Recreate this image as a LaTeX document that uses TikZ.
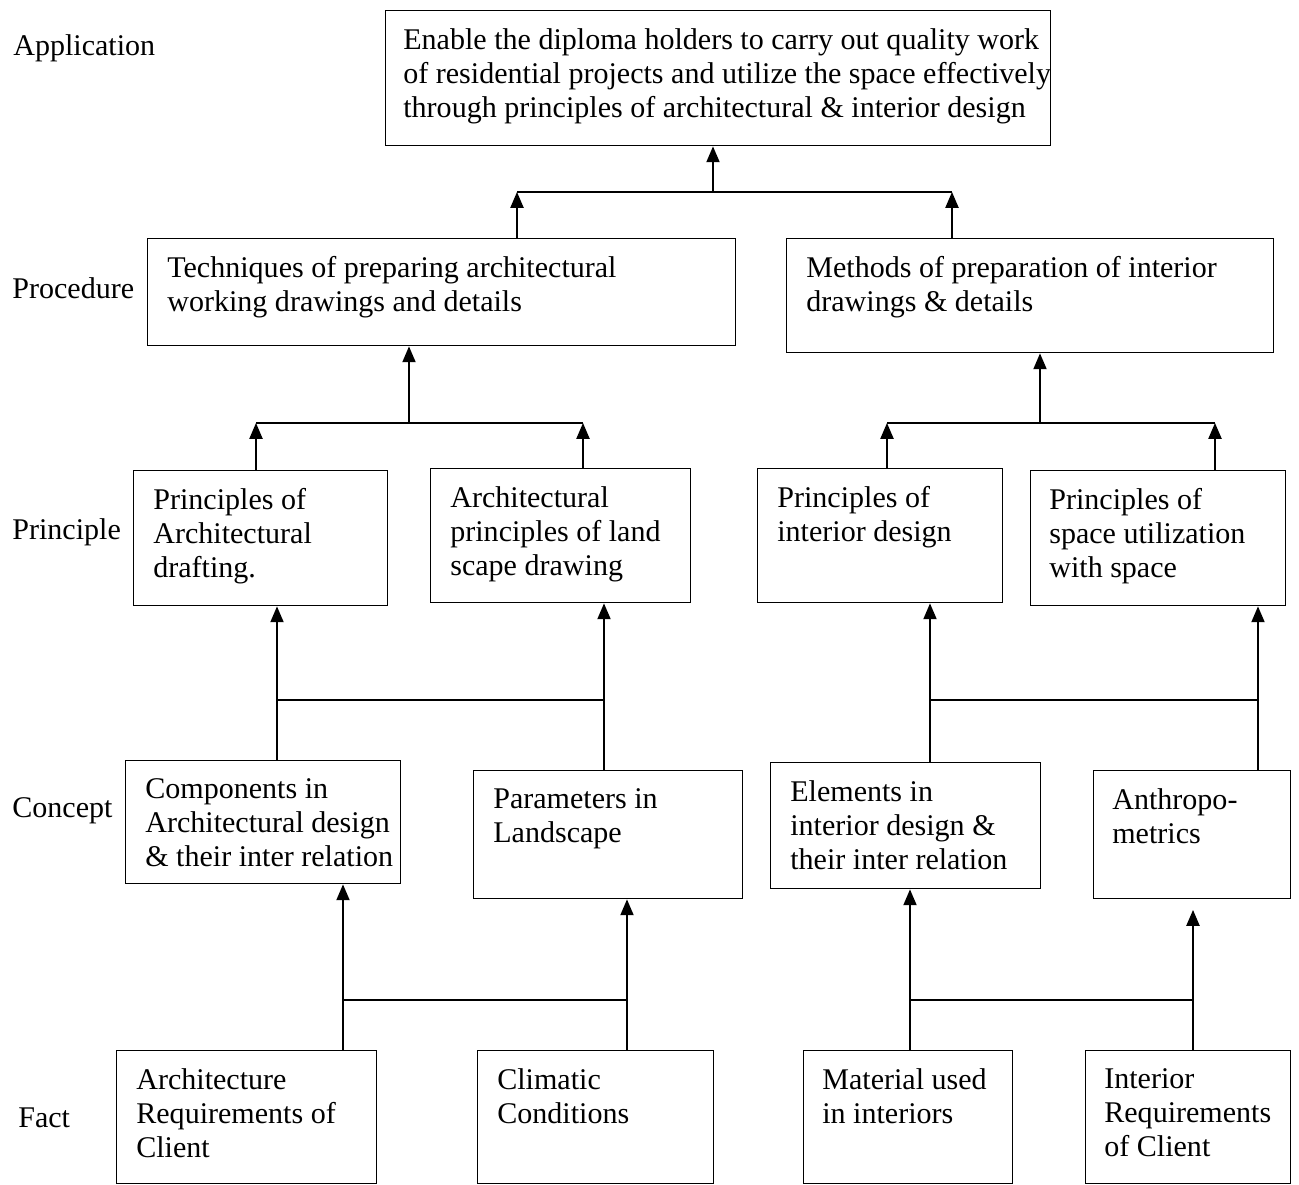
\documentclass[tikz,border=0pt]{standalone}
\usepackage{fontspec}
\setmainfont{Liberation Serif}
\usetikzlibrary{arrows.meta}

\begin{document}
\begin{tikzpicture}[x=0.02cm, y=-0.02cm,
  box/.style 2 args={draw, line width=0.8pt, anchor=north west, inner sep=0pt,
    minimum width=#1*0.02cm, minimum height=#2*0.02cm},
  txt/.style={anchor=north west, align=left, inner sep=0pt,
    font=\fontsize{17.1}{19.3}\selectfont},
  lvl/.style={anchor=base west, inner sep=0pt,
    font=\fontsize{17.1}{19.3}\selectfont},
  ln/.style={line width=0.8pt},
  arr/.style={line width=0.8pt, -{Triangle[width=7.5pt,length=9pt]}}]
\useasboundingbox (0,0) rectangle (1299,1184);

\node[lvl] (l-app) at (13,55) {Application};
\node[lvl] (l-proc) at (12,298) {Procedure};
\node[lvl] (l-prin) at (12,539) {Principle};
\node[lvl] (l-conc) at (12,817) {Concept};
\node[lvl] (l-fact) at (18,1127) {Fact};

\node[box={665}{135}] (app) at (385,10) {};
\node[txt] (app-t) at ([shift={(18,18)}]app.north west)
  {Enable the diploma holders to carry out quality work\\
   of residential projects and utilize the space effectively\\
   through principles of architectural \& interior design};

\node[box={588}{107}] (procL) at (147,238) {};
\node[txt] (procL-t) at ([shift={(20,18)}]procL.north west)
  {Techniques of preparing architectural\\ working drawings and details};
\node[box={487}{114}] (procR) at (786,238) {};
\node[txt] (procR-t) at ([shift={(20,18)}]procR.north west)
  {Methods of preparation of interior\\ drawings \& details};

\node[box={254}{135}] (prin1) at (133,470) {};
\node[txt] (prin1-t) at ([shift={(20,18)}]prin1.north west)
  {Principles of\\ Architectural\\ drafting.};
\node[box={260}{134}] (prin2) at (430,468) {};
\node[txt] (prin2-t) at ([shift={(20,18)}]prin2.north west)
  {Architectural\\ principles of land\\ scape drawing};
\node[box={245}{134}] (prin3) at (757,468) {};
\node[txt] (prin3-t) at ([shift={(20,18)}]prin3.north west)
  {Principles of\\ interior design};
\node[box={255}{135}] (prin4) at (1030,470) {};
\node[txt] (prin4-t) at ([shift={(19,18)}]prin4.north west)
  {Principles of\\ space utilization\\ with space};

\node[box={275}{123}] (conc1) at (125,760) {};
\node[txt] (conc1-t) at ([shift={(20,18)}]conc1.north west)
  {Components in\\ Architectural design\\ \& their inter relation};
\node[box={269}{128}] (conc2) at (473,770) {};
\node[txt] (conc2-t) at ([shift={(20,18)}]conc2.north west)
  {Parameters in\\ Landscape};
\node[box={270}{126}] (conc3) at (770,762) {};
\node[txt] (conc3-t) at ([shift={(20,18)}]conc3.north west)
  {Elements in\\ interior design \&\\ their inter relation};
\node[box={197}{128}] (conc4) at (1093,770) {};
\node[txt] (conc4-t) at ([shift={(19,18)}]conc4.north west)
  {Anthropo-\\ metrics};

\node[box={260}{133}] (fact1) at (116,1050) {};
\node[txt] (fact1-t) at ([shift={(20,18)}]fact1.north west)
  {Architecture\\ Requirements of\\ Client};
\node[box={236}{133}] (fact2) at (477,1050) {};
\node[txt] (fact2-t) at ([shift={(20,18)}]fact2.north west)
  {Climatic\\ Conditions};
\node[box={209}{133}] (fact3) at (803,1050) {};
\node[txt] (fact3-t) at ([shift={(19,18)}]fact3.north west)
  {Material used\\ in interiors};
\node[box={205}{133}] (fact4) at (1085,1050) {};
\node[txt] (fact4-t) at ([shift={(19,18)}]fact4.north west)
  {Interior\\ Requirements\\ of Client};

\coordinate (jA1) at (517,192); \coordinate (jA2) at (952,192);
\coordinate (jA) at (713,192);
\draw[ln] (jA1) -- (jA2);
\draw[arr] (procL.north -| jA1) -- (jA1);
\draw[arr] (procR.north -| jA2) -- (jA2);
\draw[arr] (jA) -- (jA |- app.south);

\coordinate (jB1) at (256,423); \coordinate (jB2) at (583,423);
\coordinate (jB) at (409,423);
\draw[ln] (jB1) -- (jB2);
\draw[arr] (prin1.north -| jB1) -- (jB1);
\draw[arr] (prin2.north -| jB2) -- (jB2);
\draw[arr] (jB) -- (jB |- procL.south);

\coordinate (jC1) at (887,423); \coordinate (jC2) at (1215,423);
\coordinate (jC) at (1040,423);
\draw[ln] (jC1) -- (jC2);
\draw[arr] (prin3.north -| jC1) -- (jC1);
\draw[arr] (prin4.north -| jC2) -- (jC2);
\draw[arr] (jC) -- (jC |- procR.south);

\coordinate (jD1) at (277,700); \coordinate (jD2) at (604,700);
\draw[ln] (jD1) -- (jD2);
\draw[arr] (conc1.north -| jD1) -- (jD1 |- prin1.south);
\draw[arr] (conc2.north -| jD2) -- (jD2 |- prin2.south);

\coordinate (jE1) at (930,700); \coordinate (jE2) at (1258,700);
\draw[ln] (jE1) -- (jE2);
\draw[arr] (conc3.north -| jE1) -- (jE1 |- prin3.south);
\draw[arr] (conc4.north -| jE2) -- (jE2 |- prin4.south);

\coordinate (jF1) at (343,1000); \coordinate (jF2) at (627,1000);
\draw[ln] (jF1) -- (jF2);
\draw[arr] (fact1.north -| jF1) -- (jF1 |- conc1.south);
\draw[arr] (fact2.north -| jF2) -- (jF2 |- conc2.south);

\coordinate (jG1) at (910,1000); \coordinate (jG2) at (1193,1000);
\draw[ln] (jG1) -- (jG2);
\draw[arr] (fact3.north -| jG1) -- (jG1 |- conc3.south);
\draw[arr, shorten >=6pt] (fact4.north -| jG2) -- (jG2 |- conc4.south);
\end{tikzpicture}
\end{document}
